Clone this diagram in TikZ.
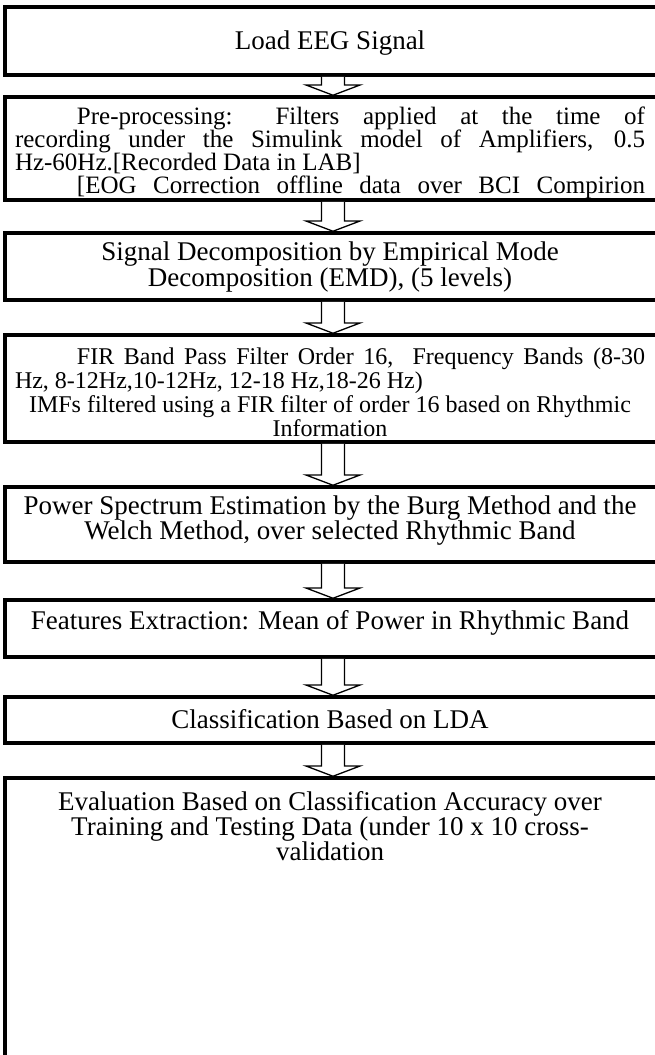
\documentclass[tikz,border=0pt]{standalone}
\usepackage{fontspec}
\setmainfont{Liberation Serif}
\usetikzlibrary{calc}
\newcommand\myjline[2][0pt]{\makebox[630pt][s]{\hspace*{#1}#2}}
\newcommand\mylline[1]{\makebox[630pt][l]{#1}}
\newcommand\mycline[1]{\makebox[630pt][c]{#1}}
\tikzset{
  box/.style={draw=black, line width=3.5pt, anchor=north west, minimum width=655pt, inner sep=0pt, outer sep=0pt},
  txt/.style={inner sep=0pt, outer sep=0pt},
  ctxt/.style={txt, align=center, anchor=north, font=\fontsize{27}{25}\selectfont},
  btxt/.style={txt, anchor=base, font=\fontsize{27}{25}\selectfont},
  ltxt/.style={txt, align=left, anchor=north west},
  arrowline/.style={draw=black, line width=1.3pt, line join=miter, fill=white}
}
% hollow block arrow from the lower edge of one box to the top of the next
\newcommand\blockarrow[2]{%
  \draw[arrowline] let \p1=(#1), \p2=(#2) in
    (\x1-11.5pt,\y1-1.75pt) -- (\x1-11.5pt,\y2+12pt) -- (\x1-27pt,\y2+12pt) -- (\x2,\y2+1.75pt)
    -- (\x1+27pt,\y2+12pt) -- (\x1+11.5pt,\y2+12pt) -- (\x1+11.5pt,\y1-1.75pt);}
\begin{document}
\begin{tikzpicture}[x=1pt,y=-1pt]
\useasboundingbox (0,0) rectangle (655,1055);
\clip (0,0) rectangle (655,1055);
\coordinate (ax) at (333,0);
% boxes
\node[box, minimum height=68pt]  (b1) at (5,7) {};
\node[box, minimum height=103pt] (b2) at (5,97) {};
\node[box, minimum height=67pt]  (b3) at (5,233) {};
\node[box, minimum height=107pt] (b4) at (5,335) {};
\node[box, minimum height=75pt]  (b5) at (5,487) {};
\node[box, minimum height=57pt]  (b6) at (5,600) {};
\node[box, minimum height=46pt]  (b7) at (5,697) {};
\node[box, minimum height=300pt] (b8) at (5,778) {};
% texts
\node[btxt] (t1) at (330,49) {Load EEG Signal};
\node[ltxt, font=\fontsize{25}{23}\selectfont] (t2) at (15,106.4) {%
\myjline[62pt]{Pre-processing: Filters applied at the time of}\\
\myjline{recording under the Simulink model of Amplifiers, 0.5}\\
\mylline{Hz-60Hz.[Recorded Data in LAB]}\\
\myjline[62pt]{[EOG Correction offline data over BCI Compirion}};
\node[ctxt, font=\fontsize{27}{26}\selectfont] (t3) at (330,241.5) {Signal Decomposition by Empirical Mode\\Decomposition (EMD), (5 levels)};
\node[ltxt, font=\fontsize{24}{23.7}\selectfont] (t4) at (15,348.3) {%
\myjline[62pt]{FIR Band Pass Filter Order 16,\ \ Frequency Bands (8-30}\\
\mylline{Hz, 8-12Hz,10-12Hz, 12-18 Hz,18-26 Hz)}\\
\mycline{IMFs filtered using a FIR filter of order 16 based on Rhythmic}\\
\mycline{Information}};
\node[ctxt] (t5) at (330,495.5) {Power Spectrum Estimation by the Burg Method and the\\Welch Method, over selected Rhythmic Band};
\node[btxt] (t6) at (330,629) {Features Extraction: Mean of Power in Rhythmic Band};
\node[btxt] (t7) at (330,728) {Classification Based on LDA};
\node[ctxt] (t8) at (330,791.6) {Evaluation Based on Classification Accuracy over\\Training and Testing Data (under 10 x 10 cross-\\validation};
% arrows
\blockarrow{b1.south -| ax}{b2.north -| ax}
\blockarrow{b2.south -| ax}{b3.north -| ax}
\blockarrow{b3.south -| ax}{b4.north -| ax}
\blockarrow{b4.south -| ax}{b5.north -| ax}
\blockarrow{b5.south -| ax}{b6.north -| ax}
\blockarrow{b6.south -| ax}{b7.north -| ax}
\blockarrow{b7.south -| ax}{b8.north -| ax}
\end{tikzpicture}
\end{document}
